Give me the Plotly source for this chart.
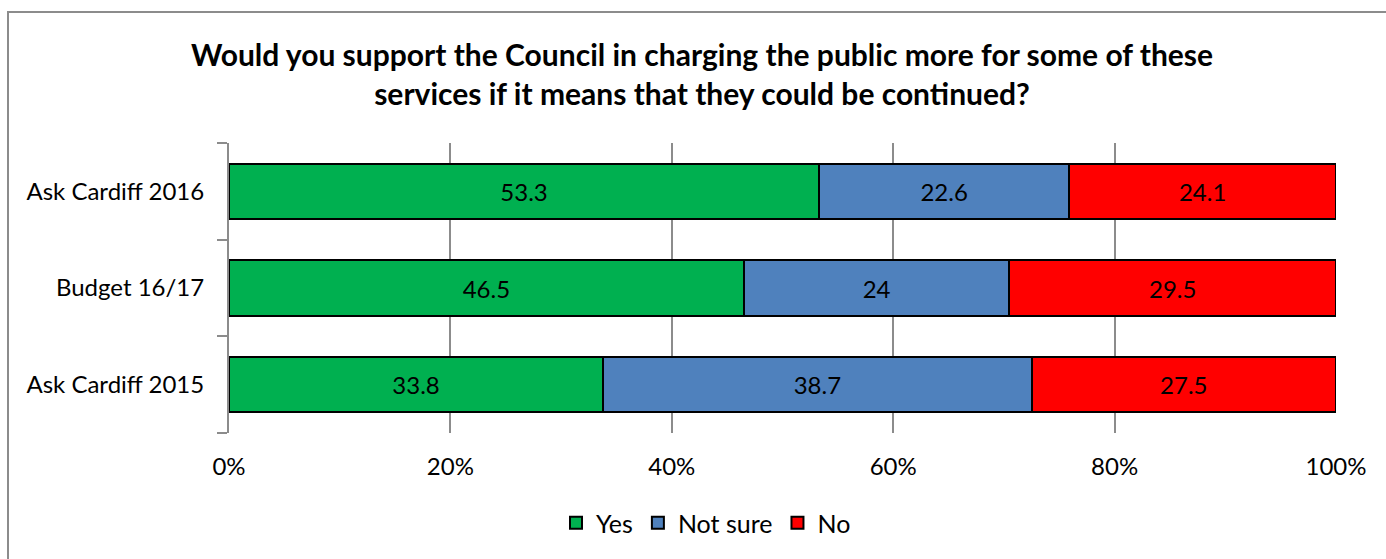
import plotly.graph_objects as go

categories = ["Ask Cardiff 2015", "Budget 16/17", "Ask Cardiff 2016"]
yes = [33.8, 46.5, 53.3]
not_sure = [38.7, 24, 22.6]
no = [27.5, 29.5, 24.1]
series_names = ["Yes", "Not sure", "No"]
colors = ["#00B050", "#4F81BD", "#FF0000"]
x_ticks = [0, 20, 40, 60, 80, 100]
x_tick_labels = ["0%", "20%", "40%", "60%", "80%", "100%"]
title = "Would you support the Council in charging the public more for some of these<br>services if it means that they could be continued?"

FONT = "Lato"
W, H = 1386, 559
L, R, T, B = 229, 1336, 143, 433

fig = go.Figure()
for name, vals, col in zip(series_names, [yes, not_sure, no], colors):
    fig.add_trace(go.Bar(
        y=categories, x=vals, name=name, orientation="h",
        marker=dict(color=col, line=dict(color="black", width=2)),
        text=[str(v) for v in vals], textposition="inside", insidetextanchor="middle",
        textfont=dict(family=FONT, size=24, color="black"),
        constraintext="none", hoverinfo="skip",
    ))

fig.update_layout(
    width=W, height=H,
    margin=dict(l=L, r=W - R, t=T, b=H - B, pad=0),
    barmode="stack", bargap=0.43,
    plot_bgcolor="white", paper_bgcolor="white",
    title=dict(text=title, xref="container", x=702 / W, xanchor="center",
               y=1 - 66 / H, yanchor="middle",
               font=dict(family=FONT, size=30, color="black", weight="bold")),
    font=dict(family=FONT, size=24, color="black"),
    showlegend=True,
    legend=dict(orientation="h", x=(706 - L) / (R - L), xanchor="center",
                y=(B - 523) / (B - T), yanchor="middle",
                font=dict(family=FONT, size=25, color="black"), traceorder="normal",
                itemwidth=30, tracegroupgap=0),
)
fig.update_xaxes(
    range=[0, 100], tickvals=x_ticks, ticktext=x_tick_labels,
    showgrid=True, gridcolor="#8C8C8C", gridwidth=1.5, zeroline=False,
    showline=False, ticks="outside", ticklen=12, tickcolor="rgba(0,0,0,0)",
    tickfont=dict(family=FONT, size=24, color="black"), fixedrange=True,
)
fig.update_yaxes(
    type="category", categoryorder="array", categoryarray=categories,
    showline=True, linecolor="#8C8C8C", linewidth=2,
    ticks="outside", tickson="boundaries", ticklen=10, tickcolor="#8C8C8C", tickwidth=2,
    ticklabelstandoff=18, showgrid=False,
    tickfont=dict(family=FONT, size=24, color="black"), fixedrange=True,
)

# outer chart border (extends past right and bottom edges like the reference)
px_w = R - L
px_h = B - T
fig.add_shape(type="rect", xref="paper", yref="paper",
              x0=(8 - L) / px_w, x1=(W + 10 - L) / px_w,
              y0=(B - (H + 10)) / px_h, y1=(B - 12) / px_h,
              line=dict(color="#8C8C8C", width=2), fillcolor="rgba(0,0,0,0)", layer="below")

fig.write_html("out.html", config={"displayModeBar": False},
               post_script="document.body.style.margin='0';document.body.style.overflow='hidden';")
